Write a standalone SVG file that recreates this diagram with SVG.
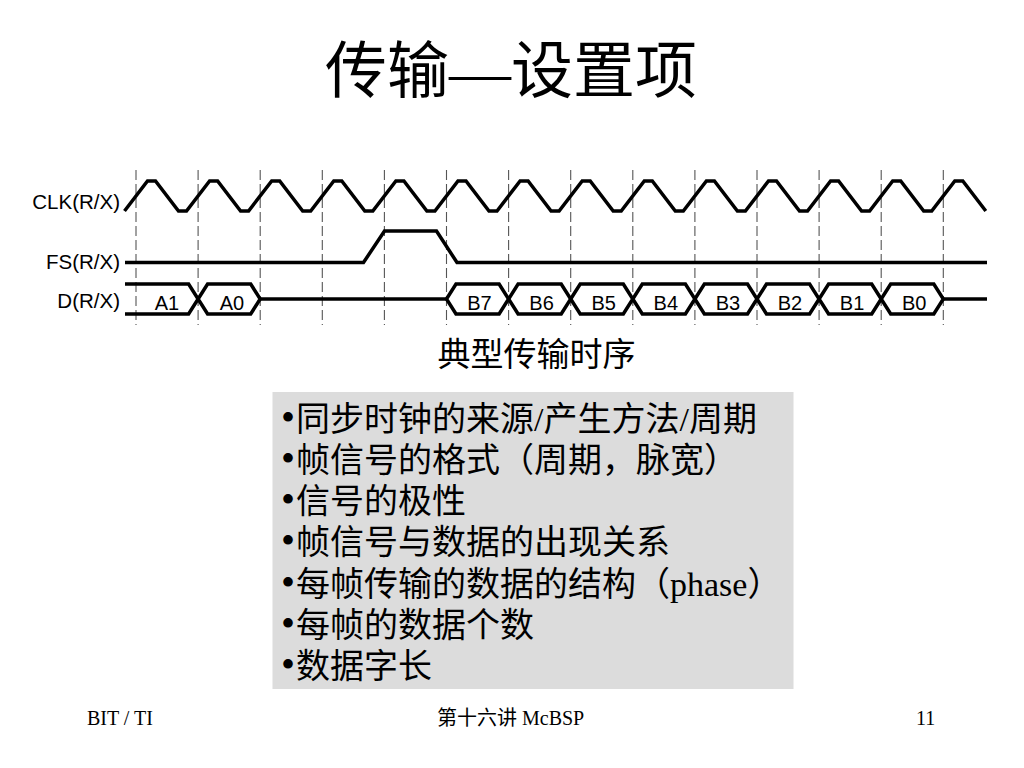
<svg xmlns="http://www.w3.org/2000/svg" width="1024" height="768" viewBox="0 0 1024 768">
<style>
.serif{font-family:'Liberation Serif','Noto Sans CJK SC',serif;fill:#000}
.sans{font-family:'Liberation Sans',Arial,sans-serif;fill:#000}
.sig{fill:none;stroke:#000;stroke-width:3.5;stroke-linejoin:miter}
.grid{stroke:#555;stroke-width:1.1;stroke-dasharray:10 4;fill:none}
.lbl{font-size:20.5px;text-anchor:end}
.bit{font-size:20px;text-anchor:middle}
.item{font-size:34px}
.bul{font-size:40px}
.foot{font-size:20px}
</style>
<rect width="1024" height="768" fill="#fff"/>
<g id="title">
<text class="serif" x="511" y="93" font-size="62" text-anchor="middle">传输—设置项</text>
</g>
<g id="timing">
<g id="gridlines" class="grid">
<path d="M136,170V325M198.1,170V325M260.2,170V325M322.3,170V325M384.4,170V325M446.5,170V325M508.6,170V325M570.7,170V325M632.8,170V325M694.9,170V325M757,170V325M819.1,170V325M881.2,170V325M943.3,170V325"/>
</g>
<g id="clk">
<text class="sans lbl" x="120" y="209">CLK(R/X)</text>
<path class="sig" d="M124.5,211 L147.5,181 L155.5,181 L178.5,211 L186.5,211 L209.6,181 L217.6,181 L240.6,211 L248.6,211 L271.7,181 L279.7,181 L302.7,211 L310.7,211 L333.8,181 L341.8,181 L364.8,211 L372.8,211 L395.9,181 L403.9,181 L426.9,211 L434.9,211 L458,181 L466,181 L489,211 L497,211 L520.1,181 L528.1,181 L551.1,211 L559.1,211 L582.2,181 L590.2,181 L613.2,211 L621.2,211 L644.3,181 L652.3,181 L675.3,211 L683.3,211 L706.4,181 L714.4,181 L737.4,211 L745.4,211 L768.5,181 L776.5,181 L799.5,211 L807.5,211 L830.6,181 L838.6,181 L861.6,211 L869.6,211 L892.7,181 L900.7,181 L923.7,211 L931.7,211 L954.8,181 L962.8,181 L985.8,211"/>
</g>
<g id="fs">
<text class="sans lbl" x="120" y="269">FS(R/X)</text>
<path class="sig" d="M125,262.5 H363.5 L384.5,231 H436.5 L457,262.5 H987"/>
</g>
<g id="data">
<text class="sans lbl" x="120" y="308">D(R/X)</text>
<path class="sig" d="M125,284 H188.6 L198.1,299 L188.6,314 H125"/>
<path class="sig" d="M198.1,299 L207.6,284 H250.7 L260.2,299 L250.7,314 H207.6 Z"/>
<path class="sig" d="M260.2,299 H446.5"/>
<path class="sig" d="M446.5,299 L456,284 H499.1 L508.6,299 L499.1,314 H456 Z"/>
<path class="sig" d="M508.6,299 L518.1,284 H561.2 L570.7,299 L561.2,314 H518.1 Z"/>
<path class="sig" d="M570.7,299 L580.2,284 H623.3 L632.8,299 L623.3,314 H580.2 Z"/>
<path class="sig" d="M632.8,299 L642.3,284 H685.4 L694.9,299 L685.4,314 H642.3 Z"/>
<path class="sig" d="M694.9,299 L704.4,284 H747.5 L757,299 L747.5,314 H704.4 Z"/>
<path class="sig" d="M757,299 L766.5,284 H809.6 L819.1,299 L809.6,314 H766.5 Z"/>
<path class="sig" d="M819.1,299 L828.6,284 H871.7 L881.2,299 L871.7,314 H828.6 Z"/>
<path class="sig" d="M881.2,299 L890.7,284 H933.8 L943.3,299 L933.8,314 H890.7 Z"/>
<path class="sig" d="M943.3,299 H987"/>
<g class="sans bit">
<text x="167" y="309.5">A1</text>
<text x="232" y="309.5">A0</text>
<text x="479.5" y="309.5">B7</text>
<text x="541.6" y="309.5">B6</text>
<text x="603.7" y="309.5">B5</text>
<text x="665.8" y="309.5">B4</text>
<text x="727.9" y="309.5">B3</text>
<text x="790" y="309.5">B2</text>
<text x="852.1" y="309.5">B1</text>
<text x="914.2" y="309.5">B0</text>
</g>
</g>
</g>
<g id="caption">
<text class="serif" x="536.5" y="365.5" font-size="33" text-anchor="middle">典型传输时序</text>
</g>
<g id="listbox">
<rect x="272.5" y="392" width="521" height="297" fill="#dcdcdc"/>
<text class="serif item" x="281" y="431"><tspan class="bul">•</tspan><tspan x="296">同步时钟的来源/产生方法/周期</tspan></text>
<text class="serif item" x="281" y="472"><tspan class="bul">•</tspan><tspan x="296">帧信号的格式（周期，脉宽）</tspan></text>
<text class="serif item" x="281" y="513"><tspan class="bul">•</tspan><tspan x="296">信号的极性</tspan></text>
<text class="serif item" x="281" y="554"><tspan class="bul">•</tspan><tspan x="296">帧信号与数据的出现关系</tspan></text>
<text class="serif item" x="281" y="596"><tspan class="bul">•</tspan><tspan x="296">每帧传输的数据的结构（phase）</tspan></text>
<text class="serif item" x="281" y="637"><tspan class="bul">•</tspan><tspan x="296">每帧的数据个数</tspan></text>
<text class="serif item" x="281" y="678"><tspan class="bul">•</tspan><tspan x="296">数据字长</tspan></text>
</g>
<g id="footer">
<text class="serif foot" x="87" y="725">BIT / TI</text>
<text class="serif foot" x="437" y="725">第十六讲 McBSP</text>
<text class="serif foot" x="916" y="725">11</text>
</g>
</svg>
